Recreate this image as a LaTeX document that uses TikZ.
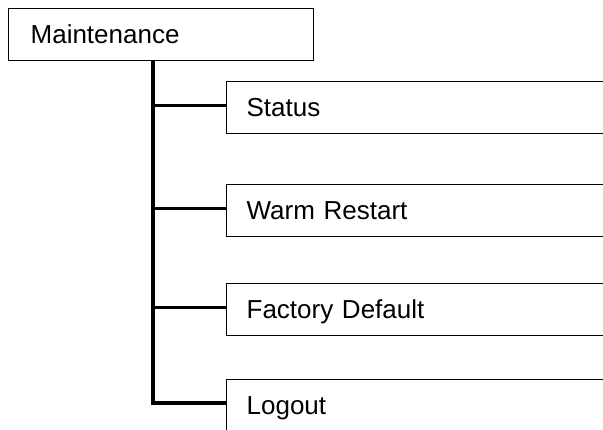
\documentclass[tikz,border=0pt]{standalone}
\usepackage{fontspec}
\setmainfont{Liberation Sans}
\usetikzlibrary{positioning}

\begin{document}
\begin{tikzpicture}[x=1pt, y=-1pt,
    menu/.style={draw, line width=1.3pt, anchor=north west, minimum height=52pt,
        text height=18.5pt, text depth=0pt, align=left, font=\fontsize{26}{30}\selectfont},
    item/.style={menu, text width=700pt, inner xsep=20pt},
    trunk/.style={line width=3.6pt}]
    \useasboundingbox (0,0) rectangle (603,430);
    \clip (0,0) rectangle (603,430);
    \node[menu, text width=261pt, inner xsep=22pt] at (8,8) (maint) {Maintenance};
    \node[item] at (226,81) (status) {Status};
    \node[item] at (226,184) (warm) {Warm Restart};
    \node[item] at (226,283) (factory) {Factory Default};
    \node[item] at (226,379) (logout) {Logout};
    \coordinate (top) at ([xshift=145pt]maint.south west);
    \coordinate (end) at ([yshift=2.5pt]logout.west);
    \draw[trunk] (top) |- (end);
    \foreach \n in {status, warm, factory} {
        \coordinate (branch) at ([yshift=2pt]\n.west);
        \draw[trunk] (top |- branch) -- (branch);
    }
\end{tikzpicture}
\end{document}
